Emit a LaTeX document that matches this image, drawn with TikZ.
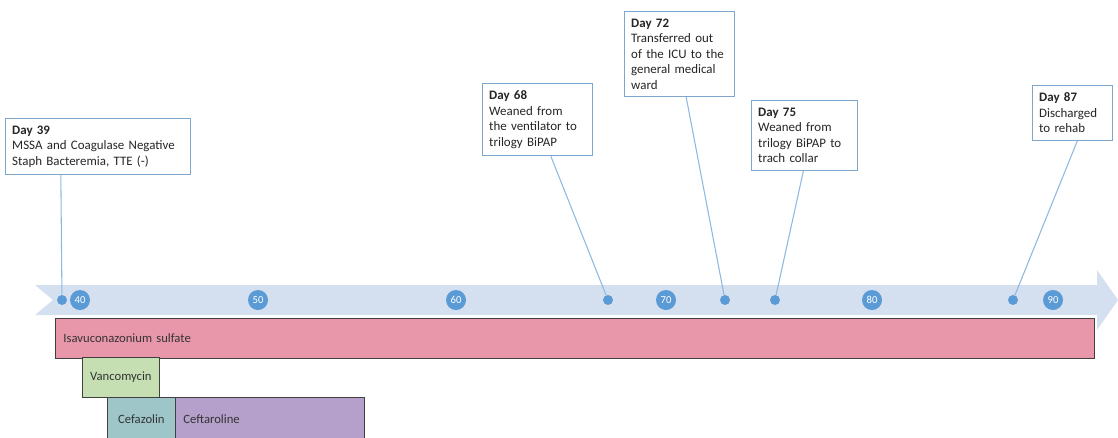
\documentclass[tikz,border=0pt]{standalone}
\usepackage{fontspec}
\setmainfont{Carlito}
\usetikzlibrary{calc}
\definecolor{bandblue}{HTML}{D4DFF0}
\definecolor{dotblue}{HTML}{5B9BD5}
\definecolor{edgeblue}{HTML}{7FA6CC}
\definecolor{stemblue}{HTML}{8FB8E0}
\definecolor{isapink}{HTML}{E897AA}
\definecolor{vancgreen}{HTML}{C5DFB2}
\definecolor{cefzteal}{HTML}{9EC6C8}
\definecolor{ceftlilac}{HTML}{B5A0CB}

\begin{document}
\begin{tikzpicture}[
      x=0.75pt, y=-0.75pt,
      event/.style={rectangle, draw=edgeblue, line width=0.8pt, fill=white, anchor=north west, align=left, inner xsep=5pt, inner ysep=5.5pt, font=\fontsize{9.7}{11.6}\selectfont, text=black!85},
      tick/.style={circle, fill=dotblue, text=white, minimum size=15pt, inner sep=0pt, font=\fontsize{8}{9}\selectfont},
      daydot/.style={circle, fill=dotblue, minimum size=7.5pt, inner sep=0pt},
      link/.style={draw=stemblue, line width=0.8pt},
      drug/.style={rectangle, draw=black!75, line width=0.6pt, anchor=north west, inner xsep=6pt, minimum height=30pt, font=\fontsize{9.5}{11}\selectfont, text=black!80}
    ]
    \useasboundingbox (0,0) rectangle (1118,437);

    \fill [bandblue] (35,285) -- (1097,285) -- (1097,270) -- (1118,300) -- (1097,330) -- (1097,315) -- (35,315) -- (53,300) -- cycle;

    \foreach \x/\n in {80/40, 258/50, 456/60, 666/70, 872/80, 1053/90}
      \node [tick] (t\n) at (\x,300) {\n};

    \node [daydot] (p39) at (62,300) {};
    \node [daydot] (p68) at (608,300) {};
    \node [daydot] (p72) at (725,300) {};
    \node [daydot] (p75) at (775,300) {};
    \node [daydot] (p87) at (1013,300) {};

    \node [event, text width=128.75pt] (d39) at (5,118) {\textbf{Day 39}\\MSSA and Coagulase Negative\\Staph Bacteremia, TTE (-)};
    \node [event, text width=72.5pt] (d68) at (482,83) {\textbf{Day 68}\\Weaned from\\the ventilator to\\trilogy BiPAP};
    \node [event, text width=72.5pt] (d72) at (624,11) {\textbf{Day 72}\\Transferred out\\of the ICU to the\\general medical\\ward};
    \node [event, text width=69.5pt] (d75) at (751,100) {\textbf{Day 75}\\Weaned from\\trilogy BiPAP to\\trach collar};
    \node [event, text width=50pt] (d87) at (1032,85) {\textbf{Day 87}\\Discharged\\to rehab};

    \path [link] ($(d39.south west)!0.30!(d39.south east)$) -- (p39);
    \path [link] ($(d68.south west)!0.62!(d68.south east)$) -- (p68);
    \path [link] ($(d72.south west)!0.56!(d72.south east)$) -- (p72);
    \path [link] ($(d75.south west)!0.49!(d75.south east)$) -- (p75);
    \path [link] ($(d87.south west)!0.56!(d87.south east)$) -- (p87);

    \node [drug, fill=isapink, text width=767.25pt, align=left] (isa) at (55,318) {Isavuconazonium sulfate};
    \node [drug, fill=vancgreen, inner xsep=0pt, minimum width=57.75pt, align=center] (vanc) at (82,357) {Vancomycin};
    \node [drug, fill=cefzteal, inner xsep=0pt, minimum width=51pt, minimum height=32pt, align=center] (cefz) at (107,397) {Cefazolin};
    \node [drug, fill=ceftlilac, text width=129.75pt, minimum height=32pt, align=left] (ceft) at (175,397) {Ceftaroline};

    \end{tikzpicture}
\end{document}
